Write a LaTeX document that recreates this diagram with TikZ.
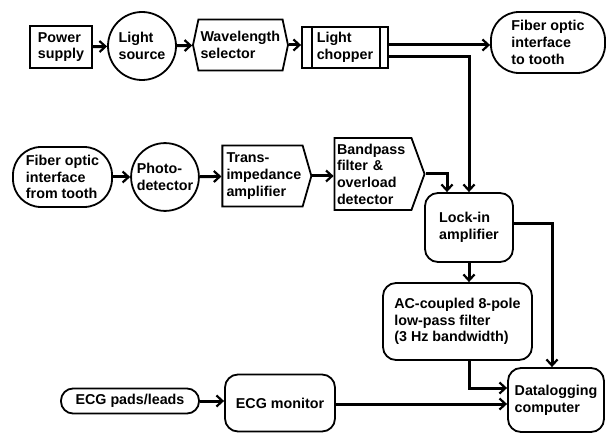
\documentclass[tikz,border=0pt]{standalone}
\usepackage{fontspec}
\setmainfont{Liberation Sans}
\usetikzlibrary{shapes.symbols,arrows.meta,calc}

\begin{document}
\begin{tikzpicture}[x=1pt,y=-1pt,
  every node/.style={font=\bfseries\fontsize{14.3}{16.7}\selectfont, align=left, line width=1.8pt, inner sep=2pt},
  box/.style={draw, rectangle, minimum width=#1},
  rbox/.style={draw, rectangle, rounded corners=13pt},
  blob/.style={draw, circle, minimum size=#1},
  pill/.style={draw, rectangle, rounded corners=#1},
  sig/.style={draw, signal, signal pointer angle=#1},
  conn/.style={line width=3pt, -{Straight Barb[length=6pt,width=11pt,line width=2.2pt]}}]
\useasboundingbox (0,0) rectangle (608,433);

% top row
\node[box=62pt, minimum height=42pt] (power) at (61,47) {Power\\supply};
\node[blob=68pt] (lightsrc) at (142,46) {Light\\source};
\node[sig=156, signal to=east and west, minimum width=95pt, minimum height=51pt, text width=80pt] (wavesel) at (240.5,45) {Wavelength\\selector\\[-5pt]};
\node[box=86pt, minimum height=41pt, path picture={
    \draw[line width=1.6pt] ([xshift=10pt]path picture bounding box.north west) -- ([xshift=10pt]path picture bounding box.south west)
      ([xshift=-8pt]path picture bounding box.north east) -- ([xshift=-8pt]path picture bounding box.south east);}] (chopper) at (345,47.5) {Light\\chopper};
\node[pill=28pt, minimum width=114pt, minimum height=61pt] (fibto) at (548,42.5) {Fiber optic\\interface\\to tooth};

% second row
\node[pill=28pt, minimum width=99pt, minimum height=60pt] (fibfrom) at (62.5,177) {Fiber optic\\interface\\from tooth};
\node[blob=66pt] (photo) at (165,177) {Photo-\\detector};
\node[sig=148, minimum width=89pt, minimum height=61pt, text width=72pt] (transimp) at (262.5,176) {Trans-\\impedance\\amplifier};
\node[sig=140, minimum width=90pt, minimum height=72pt, text width=72pt] (bandpass) at (373,174) {Bandpass\\filter \&\\overload\\detector};

% right column
\node[rbox, minimum width=88pt, minimum height=69pt] (lockin) at (469,227.5) {Lock-in\\amplifier};
\node[rbox, minimum width=149pt, minimum height=77pt] (acfilt) at (457.5,321.5) {AC-coupled 8-pole\\low-pass filter\\(3 Hz bandwidth)};
\node[rbox, minimum width=96pt, minimum height=64pt] (datalog) at (556,400) {Datalogging\\computer};

% bottom row
\node[pill=12pt, minimum width=138pt, minimum height=25pt] (ecgpads) at (130,401) {ECG pads/leads};
\node[rbox, minimum width=110pt, minimum height=57pt] (ecgmon) at (280,403) {ECG monitor};

% connectors
\draw[conn] (power) -- (lightsrc);
\draw[conn] (lightsrc) -- (wavesel);
\draw[conn] (wavesel.east) -- (wavesel.east -| chopper.west);
\draw[conn] ([yshift=2.5pt]chopper.east) -- ([yshift=2.5pt]chopper.east -| fibto.west);
\draw[conn] ([yshift=-9.5pt]chopper.east) -| (lockin.north);
\draw[conn] (fibfrom) -- (photo);
\draw[conn] (photo) -- (transimp);
\draw[conn] (transimp.east) -- (transimp.east -| bandpass.west);
\draw[conn] (bandpass.east) -| ([xshift=-22pt]lockin.north);
\draw[conn] ([yshift=4.5pt]lockin.east) -| ([xshift=-4pt]datalog.north);
\draw[conn] (lockin.south) -- (lockin.south |- acfilt.north);
\draw[conn] (lockin.south |- acfilt.south) |- ([yshift=12pt]datalog.west);
\draw[conn] (ecgpads) -- (ecgpads -| ecgmon.west);
\draw[conn] ([yshift=-1pt]ecgmon.east) -- ([yshift=-1pt]ecgmon.east -| datalog.west);
\end{tikzpicture}
\end{document}
